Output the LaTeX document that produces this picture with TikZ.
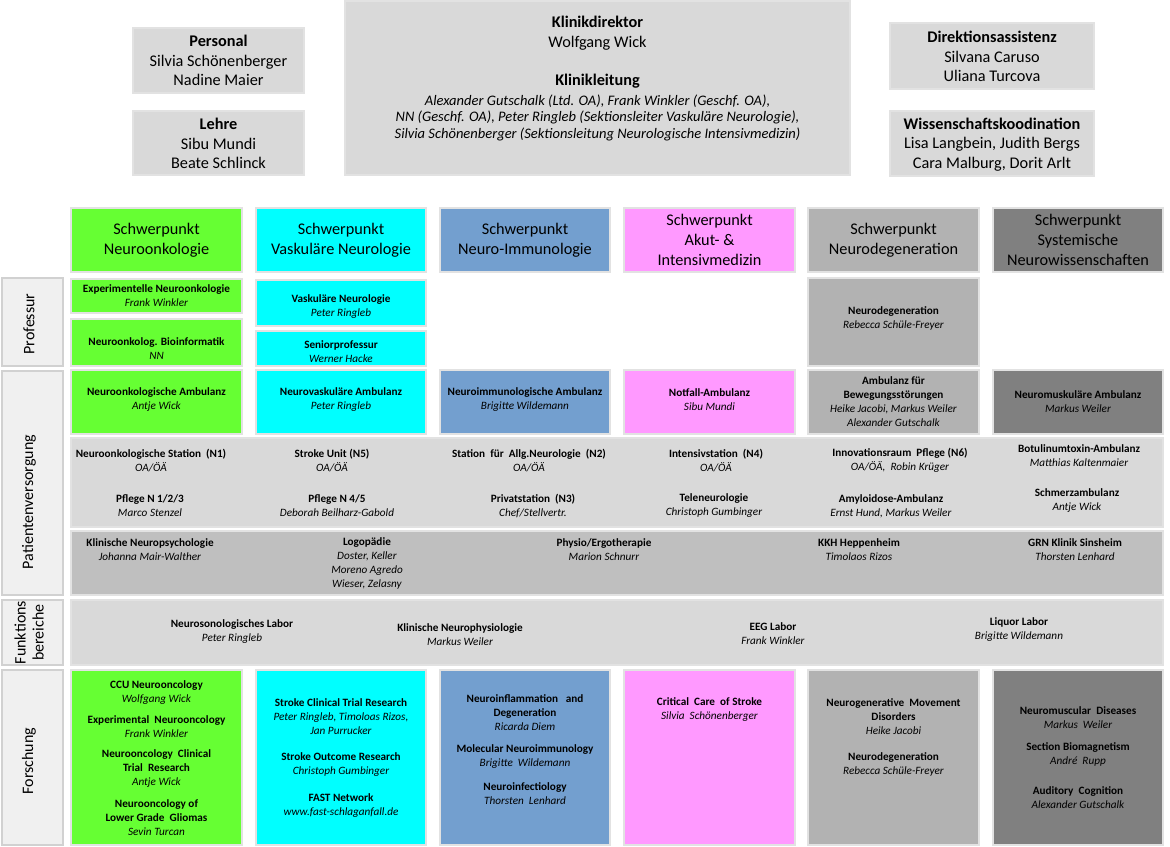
\documentclass[tikz,border=0pt]{standalone}
\usepackage{fontspec}
\setmainfont{Carlito}
\usepackage{tikz}
\usetikzlibrary{positioning}
\definecolor{onko}{HTML}{66FF33}
\definecolor{vask}{HTML}{00FFFF}
\definecolor{immu}{HTML}{739FCF}
\definecolor{akut}{HTML}{FF99FF}
\definecolor{dege}{HTML}{B2B2B2}
\definecolor{syst}{HTML}{808080}
\definecolor{hell}{HTML}{D9D9D9}
\definecolor{mittel}{HTML}{BFBFBF}
\definecolor{rand}{HTML}{E2E2E2}
\tikzset{
cell/.style={draw=rand, line width=0.8pt}, % every coloured box
tag/.style={draw=black!18, line width=1.4pt, fill=black!6}, % row labels on the left
kopf/.style={font=\fontsize{12.2}{15}\selectfont, align=center, inner sep=0pt},
oben/.style={font=\fontsize{12.2}{14.6}\selectfont, align=center, inner sep=0pt},
klein/.style={font=\fontsize{8.4}{10.5}\selectfont, align=center, inner sep=0pt},
seite/.style={font=\fontsize{12}{13.5}\selectfont, align=center, rotate=90, inner sep=0pt}
}
\newcommand{\eintrag}[2]{\textbf{#1}\\\textit{#2}}

\begin{document}
\begin{tikzpicture}[x=0.75pt, y=-0.75pt]
    \useasboundingbox (0,0) rectangle (1170,846);
    % leitung
    \draw [cell, fill=hell] (133,28) rectangle (304,93);
    \node [oben] (personal) at (218.5,60.5) {\textbf{Personal}\\Silvia Schönenberger\\Nadine Maier};
    \draw [cell, fill=hell] (133,111) rectangle (304,175);
    \node [oben] (lehre) at (218.5,143.5) {\textbf{Lehre}\\Sibu Mundi\\Beate Schlinck};
    \draw [cell, fill=hell] (345,1) rectangle (850,175);
    \node [oben] (direktor) at (597.5,33) {\textbf{Klinikdirektor}\\Wolfgang Wick};
    \node [oben] (leitung) at (597.5,81) {\textbf{Klinikleitung}};
    \node [font=\fontsize{10.9}{12.4}\selectfont\itshape, align=center, inner sep=0pt] (leitnamen) at (597.5,117.5)
        {Alexander Gutschalk (Ltd. OA), Frank Winkler (Geschf. OA),\\NN (Geschf. OA), Peter Ringleb (Sektionsleiter Vaskuläre Neurologie),\\Silvia Schönenberger (Sektionsleitung Neurologische Intensivmedizin)};
    \draw [cell, fill=hell] (890,23) rectangle (1094,89);
    \node [oben] (assistenz) at (992,56.5) {\textbf{Direktionsassistenz}\\Silvana Caruso\\Uliana Turcova};
    \draw [cell, fill=hell] (890,111) rectangle (1094,176);
    \node [oben] (wiss) at (992,144.5) {\textbf{Wissenschaftskoodination}\\Lisa Langbein, Judith Bergs\\Cara Malburg, Dorit Arlt};

    % schwerpunkte
    \draw [cell, fill=onko] (71,208) rectangle (242,272);
    \node [kopf] (sp1) at (156.5,240.5) {Schwerpunkt\\Neuroonkologie};
    \draw [cell, fill=vask] (256,208) rectangle (426,272);
    \node [kopf] (sp2) at (341,240.5) {Schwerpunkt\\Vaskuläre Neurologie};
    \draw [cell, fill=immu] (440,208) rectangle (610,272);
    \node [kopf] (sp3) at (525,240.5) {Schwerpunkt\\Neuro-Immunologie};
    \draw [cell, fill=akut] (624,208) rectangle (795,272);
    \node [kopf] (sp4) at (709.5,240) {Schwerpunkt\\Akut- \&\\Intensivmedizin};
    \draw [cell, fill=dege] (808,208) rectangle (979,272);
    \node [kopf] (sp5) at (893.5,240.5) {Schwerpunkt\\Neurodegeneration};
    \draw [cell, fill=syst] (993,208) rectangle (1163,272);
    \node [kopf] (sp6) at (1078,240) {Schwerpunkt\\Systemische\\Neurowissenschaften};

    % professur
    \draw [tag] (2,278) rectangle (63,366);
    \node [seite] (t_prof) at (29,324) {Professur};
    \draw [cell, fill=onko] (71,279) rectangle (242,313);
    \node [klein] (p1a) at (156.5,295.5) {\eintrag{Experimentelle Neuroonkologie}{Frank Winkler}};
    \draw [cell, fill=onko] (71,319) rectangle (242,366);
    \node [klein] (p1b) at (156.5,348.5) {\eintrag{Neuroonkolog. Bioinformatik}{NN}};
    \draw [cell, fill=vask] (256,280) rectangle (426,326);
    \node [klein] (p2a) at (341,307) {\eintrag{Vaskuläre Neurologie}{Peter Ringleb}};
    \draw [cell, fill=vask] (256,331) rectangle (426,366);
    \node [klein] (p2b) at (341,351.5) {\eintrag{Seniorprofessur}{Werner Hacke}};
    \draw [cell, fill=dege] (808,278) rectangle (979,366);
    \node [klein] (p5) at (893.5,318.5) {\eintrag{Neurodegeneration}{Rebecca Schüle-Freyer}};

    % patientenversorgung
    \draw [tag] (2,371) rectangle (63,595);
    \node [seite] (t_pat) at (29,502) {Patientenversorgung};
    \draw [cell, fill=onko] (71,370) rectangle (242,434);
    \node [klein] (a1) at (156.5,399.5) {\eintrag{Neuroonkologische Ambulanz}{Antje Wick}};
    \draw [cell, fill=vask] (256,370) rectangle (426,434);
    \node [klein] (a2) at (341,399.5) {\eintrag{Neurovaskuläre Ambulanz}{Peter Ringleb}};
    \draw [cell, fill=immu] (440,370) rectangle (610,434);
    \node [klein] (a3) at (525,399.5) {\eintrag{Neuroimmunologische Ambulanz}{Brigitte Wildemann}};
    \draw [cell, fill=akut] (624,370) rectangle (795,434);
    \node [klein] (a4) at (709.5,399.5) {\eintrag{Notfall-Ambulanz}{Sibu Mundi}};
    \draw [cell, fill=dege] (808,370) rectangle (979,434);
    \node [klein] (a5) at (893.5,401.5) {\textbf{Ambulanz für}\\\textbf{Bewegungsstörungen}\\\textit{Heike Jacobi, Markus Weiler}\\\textit{Alexander Gutschalk}};
    \draw [cell, fill=syst] (993,370) rectangle (1163,434);
    \node [klein] (a6) at (1078,401.5) {\eintrag{Neuromuskuläre Ambulanz}{Markus Weiler}};

    \draw [cell, fill=hell] (71,438) rectangle (1163,527);
    \node [klein] (st1) at (151,460.5) {\eintrag{Neuroonkologische Station\ \ (N1)}{OA/ÖÄ}};
    \node [klein] (pf1) at (150,506) {\eintrag{Pflege N 1/2/3}{Marco Stenzel}};
    \node [klein] (st2) at (332,460.5) {\eintrag{Stroke Unit (N5)}{OA/ÖÄ}};
    \node [klein] (pf2) at (337,506) {\eintrag{Pflege N 4/5}{Deborah Beilharz-Gabold}};
    \node [klein] (st3) at (529,460.5) {\eintrag{Station\ \ für\ \ Allg.Neurologie\ \ (N2)}{OA/ÖÄ}};
    \node [klein] (pf3) at (533,506) {\eintrag{Privatstation\ \ (N3)}{Chef/Stellvertr.}};
    \node [klein] (st4) at (716,460.5) {\eintrag{Intensivstation\ \ (N4)}{OA/ÖÄ}};
    \node [klein] (tele) at (714,506) {\eintrag{Teleneurologie}{Christoph Gumbinger}};
    \node [klein] (st5) at (900,460.5) {\eintrag{Innovationsraum\ \ Pflege (N6)}{OA/ÖÄ,\ \ Robin Krüger}};
    \node [klein] (amyl) at (891,506) {\eintrag{Amyloidose-Ambulanz}{Ernst Hund, Markus Weiler}};
    \node [klein] (botu) at (1079,456) {\eintrag{Botulinumtoxin-Ambulanz}{Matthias Kaltenmaier}};
    \node [klein] (schm) at (1077,501) {\eintrag{Schmerzambulanz}{Antje Wick}};

    \draw [cell, fill=mittel] (71,531) rectangle (1163,595);
    \node [klein] (psych) at (150,550) {\eintrag{Klinische Neuropsychologie}{Johanna Mair-Walther}};
    \node [klein] (logo) at (367,563.5) {\textbf{Logopädie}\\\textit{Doster, Keller}\\\textit{Moreno Agredo}\\\textit{Wieser, Zelasny}};
    \node [klein] (physio) at (604,550) {\eintrag{Physio/Ergotherapie}{Marion Schnurr}};
    \node [klein] (kkh) at (859,550) {\eintrag{KKH Heppenheim}{Timolaos Rizos}};
    \node [klein] (grn) at (1075,550) {\eintrag{GRN Klinik Sinsheim}{Thorsten Lenhard}};

    % funktionsbereiche
    \draw [tag] (2,600) rectangle (63,665);
    \node [seite] (t_funk) at (29,632.5) {Funktions\\bereiche};
    \draw [cell, fill=hell] (71,600) rectangle (1163,665);
    \node [klein] (sono) at (232,632) {\eintrag{Neurosonologisches Labor}{Peter Ringleb}};
    \node [klein] (phys) at (460,635) {\eintrag{Klinische Neurophysiologie}{Markus Weiler}};
    \node [klein] (eeg) at (773,634) {\eintrag{EEG Labor}{Frank Winkler}};
    \node [klein] (liquor) at (1019,630) {\eintrag{Liquor Labor}{Brigitte Wildemann}};

    % forschung
    \draw [tag] (2,670) rectangle (63,845);
    \node [seite] (t_for) at (29,761) {Forschung};
    \draw [cell, fill=onko] (71,670) rectangle (242,845);
    \node [klein] (f1a) at (156.5,693) {\eintrag{CCU Neurooncology}{Wolfgang Wick}};
    \node [klein] (f1b) at (156.5,727) {\eintrag{Experimental\ \ Neurooncology}{Frank Winkler}};
    \node [klein] (f1c) at (156.5,768.5) {\textbf{Neurooncology\ \ Clinical}\\\textbf{Trial\ \ Research}\\\textit{Antje Wick}};
    \node [klein] (f1d) at (156.5,817.5) {\textbf{Neurooncology of}\\\textbf{Lower Grade\ \ Gliomas}\\\textit{Sevin Turcan}};
    \draw [cell, fill=vask] (256,670) rectangle (426,845);
    \node [klein] (f2a) at (341,716.5) {\textbf{Stroke Clinical Trial Research}\\\textit{Peter Ringleb, Timoloas Rizos,}\\\textit{Jan Purrucker}};
    \node [klein] (f2b) at (341,764.5) {\eintrag{Stroke Outcome Research}{Christoph Gumbinger}};
    \node [klein] (f2c) at (341,805.5) {\eintrag{FAST Network}{www.fast-schlaganfall.de}};
    \draw [cell, fill=immu] (440,670) rectangle (610,845);
    \node [klein] (f3a) at (525,713) {\textbf{Neuroinflammation\ \ \ and}\\\textbf{Degeneration}\\\textit{Ricarda Diem}};
    \node [klein] (f3b) at (525,757) {\eintrag{Molecular Neuroimmunology}{Brigitte\ \ Wildemann}};
    \node [klein] (f3c) at (525,794) {\eintrag{Neuroinfectiology}{Thorsten\ \ Lenhard}};
    \draw [cell, fill=akut] (624,670) rectangle (795,845);
    \node [klein] (f4) at (709.5,710) {\eintrag{Critical\ \ Care\ \ of Stroke}{Silvia\ \ Schönenberger}};
    \draw [cell, fill=dege] (808,670) rectangle (979,845);
    \node [klein] (f5a) at (893.5,716.5) {\textbf{Neurogenerative\ \ Movement}\\\textbf{Disorders}\\\textit{Heike Jacobi}};
    \node [klein] (f5b) at (893.5,764) {\eintrag{Neurodegeneration}{Rebecca Schüle-Freyer}};
    \draw [cell, fill=syst] (993,670) rectangle (1163,845);
    \node [klein] (f6a) at (1078,717.5) {\eintrag{Neuromuscular\ \ Diseases}{Markus\ \ Weiler}};
    \node [klein] (f6b) at (1078,754) {\eintrag{Section Biomagnetism}{André\ \ Rupp}};
    \node [klein] (f6c) at (1078,798) {\eintrag{Auditory\ \ Cognition}{Alexander Gutschalk}};
\end{tikzpicture}
\end{document}
